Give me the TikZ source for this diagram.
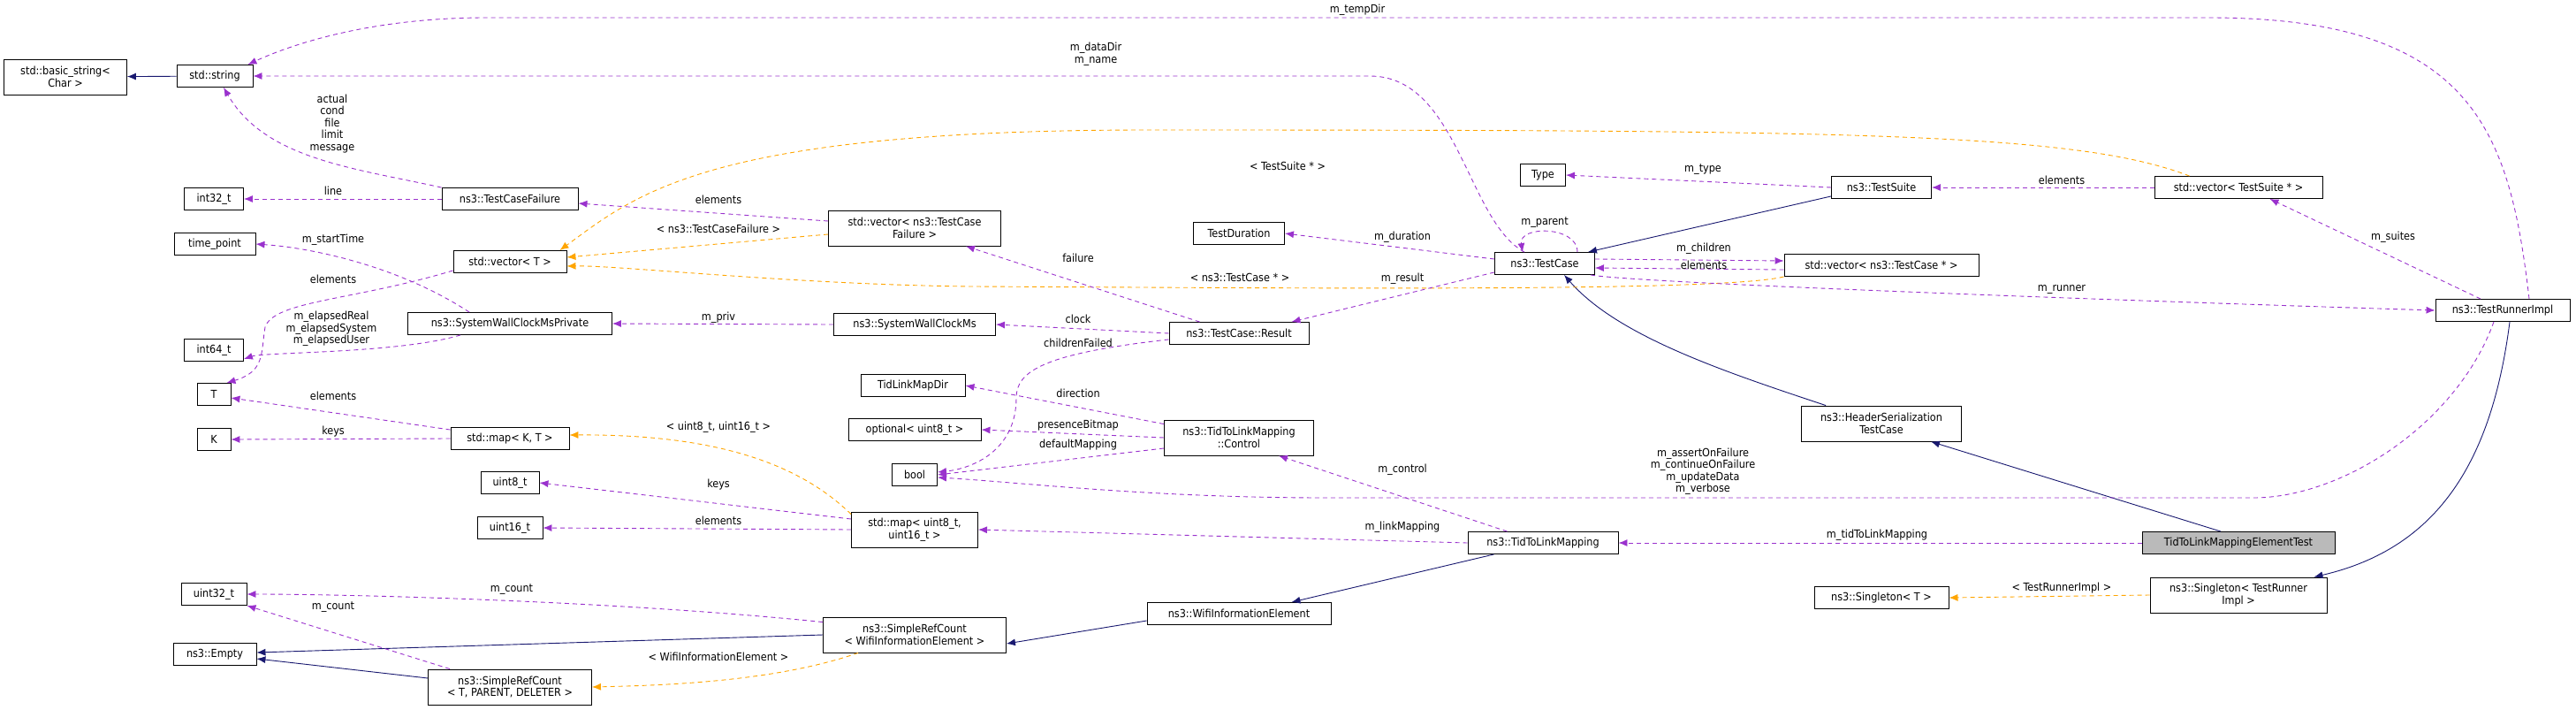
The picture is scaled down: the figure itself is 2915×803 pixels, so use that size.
\documentclass[tikz,border=0pt]{standalone}
\usepackage{fontspec}
\setmainfont{DejaVu Sans Condensed}
\usetikzlibrary{arrows.meta}
\definecolor{inh}{HTML}{191970}
\definecolor{use}{HTML}{9A32CD}
\definecolor{tpl}{HTML}{FFA500}
\tikzset{
  box/.style={draw, fill=white, line width=0.9pt, font=\fontsize{12.5}{13.5}\selectfont, align=center, inner sep=1pt, minimum height=25pt, minimum width=#1},
  box2/.style={box=#1, minimum height=40pt},
  isa/.style={-{Latex[length=10pt,width=8pt,fill=inh]}, draw=inh, line width=0.9pt},
  uses/.style={-{Latex[length=10pt,width=8pt,fill=use]}, draw=use, line width=0.9pt, dash pattern=on 5pt off 4pt},
  inst/.style={-{Latex[length=10pt,width=8pt,fill=tpl]}, draw=tpl, line width=0.9pt, dash pattern=on 5pt off 4pt},
  lbl/.style={font=\fontsize{12.5}{13.5}\selectfont, align=center, inner sep=0pt}
}
\begin{document}
\begin{tikzpicture}[x=1pt,y=-1pt]
\useasboundingbox (0,0) rectangle (2915,803);
% column 1
\node[box2=139] (basicstr) at (74,87) {std::basic\_string\textless\\Char \textgreater};
% column 2
\node[box=86] (str) at (243,86) {std::string};
\node[box=67] (int32) at (242,225) {int32\_t};
\node[box=92] (tpoint) at (243,276) {time\_point};
\node[box=67] (int64) at (242,396) {int64\_t};
\node[box=38] (tt) at (242,446) {T};
\node[box=38] (kk) at (242,497) {K};
\node[box=74] (uint32) at (242,672) {uint32\_t};
\node[box=94] (empty) at (243,740) {ns3::Empty};
% column 3
\node[box=154] (failure) at (577,225) {ns3::TestCaseFailure};
\node[box=128] (vecT) at (577,296) {std::vector\textless{} T \textgreater};
\node[box=231] (wallpriv) at (577,366) {ns3::SystemWallClockMsPrivate};
\node[box=134] (mapKT) at (577,496) {std::map\textless{} K, T \textgreater};
\node[box=66] (uint8) at (577,546) {uint8\_t};
\node[box=74] (uint16) at (577,597) {uint16\_t};
\node[box2=185] (srcT) at (577,777) {ns3::SimpleRefCount\\\textless{} T, PARENT, DELETER \textgreater};
% column 4
\node[box2=195] (vecFail) at (1035,258) {std::vector\textless{} ns3::TestCase\\Failure \textgreater};
\node[box=183] (wall) at (1035,367) {ns3::SystemWallClockMs};
\node[box=118] (mapdir) at (1033,436) {TidLinkMapDir};
\node[box=150] (opt) at (1035,486) {optional\textless{} uint8\_t \textgreater};
\node[box=51] (bool) at (1035,537) {bool};
\node[box2=143] (mapU) at (1035,599) {std::map\textless{} uint8\_t,\\uint16\_t \textgreater};
\node[box2=207] (srcW) at (1035,718) {ns3::SimpleRefCount\\\textless{} WifiInformationElement \textgreater};
% column 5
\node[box=103] (dur) at (1402,264) {TestDuration};
\node[box=158] (result) at (1402,377) {ns3::TestCase::Result};
\node[box2=169] (control) at (1402,495) {ns3::TidToLinkMapping\\::Control};
\node[box=208] (wifiie) at (1402,694) {ns3::WifiInformationElement};
% column 6
\node[box=51] (type) at (1746,198) {Type};
\node[box=113] (tcase) at (1748,298) {ns3::TestCase};
\node[box=170] (tlm) at (1746,614) {ns3::TidToLinkMapping};
% column 7
\node[box=113] (suite) at (2129,212) {ns3::TestSuite};
\node[box=220] (vecCase) at (2129,300) {std::vector\textless{} ns3::TestCase * \textgreater};
\node[box2=181] (hdr) at (2129,479) {ns3::HeaderSerialization\\TestCase};
\node[box=152] (singT) at (2129,676) {ns3::Singleton\textless{} T \textgreater};
% column 8
\node[box=190] (vecSuite) at (2533,212) {std::vector\textless{} TestSuite * \textgreater};
\node[box=218, fill=black!27] (elemtest) at (2533,614) {TidToLinkMappingElementTest};
\node[box2=200] (singR) at (2533,673) {ns3::Singleton\textless{} TestRunner\\Impl \textgreater};
% column 9
\node[box=152] (runner) at (2832,351) {ns3::TestRunnerImpl};

% inheritance
\draw[isa] (str) -- (basicstr);
\draw[isa] ([yshift=3pt]suite.south west) -- ([xshift=-8pt]tcase.north east);
\draw[isa] ([xshift=28pt]hdr.north west) .. controls (1950,420) and (1830,380) .. ([xshift=22pt]tcase.south);
\draw[isa] ([xshift=-20pt]elemtest.north) -- ([xshift=-35pt]hdr.south east);
\draw[isa] ([xshift=30pt]tlm.south west) -- ([xshift=-45pt]wifiie.north east);
\draw[isa] ([yshift=-8pt]wifiie.west) -- ([yshift=-10pt]srcW.east);
\draw[isa] (srcW.west) -- ([yshift=2pt]empty.east);
\draw[isa] ([yshift=10pt]srcT.west) -- ([yshift=-5pt]empty.east);
\draw[isa] ([xshift=8pt]runner.south) .. controls (2820,520) and (2760,620) .. ([xshift=-15pt]singR.north east);

% templates
\draw[inst] ([yshift=-7pt]vecFail.west) -- ([yshift=5pt]vecT.east) node[lbl] at (813,259) {\textless{} ns3::TestCaseFailure \textgreater};
\draw[inst] (vecCase.south west) .. controls (1950,330) and (1500,326) .. (1100,324) .. controls (900,322) and (700,300) .. ([yshift=-5pt]vecT.east) node[lbl] at (1403,314) {\textless{} ns3::TestCase * \textgreater};
\draw[inst] ([xshift=40pt]vecSuite.north west) .. controls (2350,150) and (2100,147) .. (1300,147) .. controls (800,147) and (720,220) .. ([xshift=-8pt]vecT.north east) node[lbl] at (1457,188) {\textless{} TestSuite * \textgreater};
\draw[inst] ([yshift=-3pt]mapU.north west) .. controls (900,520) and (800,491) .. ([yshift=4pt]mapKT.east) node[lbl] at (813,483) {\textless{} uint8\_t, uint16\_t \textgreater};
\draw[inst] ([xshift=40pt]srcW.south west) .. controls (880,770) and (760,775) .. (srcT.east) node[lbl] at (813,743) {\textless{} WifiInformationElement \textgreater};
\draw[inst] (singR.west) -- (singT.east) node[lbl] at (2333,665) {\textless{} TestRunnerImpl \textgreater};

% usage
\draw[uses] ([xshift=30pt]runner.north) .. controls (2840,150) and (2800,20) .. (2500,20) -- (550,20) .. controls (420,20) and (330,50) .. ([xshift=-6pt]str.north east) node[lbl] at (1536,11) {m\_tempDir};
\draw[uses] ([xshift=-23pt]tcase.north) .. controls (1660,250) and (1650,86) .. (1550,86) -- (str.east) node[lbl] at (1240,61) {m\_dataDir\\m\_name};
\draw[uses] (failure.north west) .. controls (400,190) and (300,180) .. ([xshift=10pt]str.south) node[lbl] at (376,140) {actual\\cond\\file\\limit\\message};
\draw[uses] (failure.west) -- (int32.east) node[lbl] at (377,216) {line};
\draw[uses] ([yshift=8pt]vecFail.west) -- ([yshift=-5pt]failure.east) node[lbl] at (813,226) {elements};
\draw[uses] ([xshift=70pt]wallpriv.north west) .. controls (450,300) and (350,280) .. (tpoint.east) node[lbl] at (377,271) {m\_startTime};
\draw[uses] ([yshift=-10pt]vecT.west) .. controls (400,340) and (310,340) .. (300,370) .. controls (295,400) and (300,420) .. ([xshift=-5pt]tt.north east) node[lbl] at (377,316) {elements};
\draw[uses] ([xshift=60pt]wallpriv.south west) .. controls (450,400) and (300,398) .. ([yshift=-10pt]int64.east) node[lbl] at (375,372) {m\_elapsedReal\\m\_elapsedSystem\\m\_elapsedUser};
\draw[uses] (wall.west) -- (wallpriv.east) node[lbl] at (813,359) {m\_priv};
\draw[uses] ([xshift=35pt]result.north west) -- ([xshift=-40pt]vecFail.south east) node[lbl] at (1220,292) {failure};
\draw[uses] (result.west) -- (wall.east) node[lbl] at (1220,361) {clock};
\draw[uses] ([yshift=6pt]result.south west) .. controls (1180,400) and (1150,420) .. (1150,450) .. controls (1150,510) and (1100,530) .. ([yshift=3pt]bool.east) node[lbl] at (1220,388) {childrenFailed};
\draw[uses] ([yshift=-3pt]mapKT.north west) -- ([yshift=-4pt]tt.east) node[lbl] at (377,448) {elements};
\draw[uses] (mapKT.west) -- (kk.east) node[lbl] at (377,488) {keys};
\draw[uses] ([yshift=12pt]mapU.west) -- (uint8.east) node[lbl] at (813,548) {keys};
\draw[uses] (mapU.west) -- (uint16.east) node[lbl] at (813,589) {elements};
\draw[uses] ([yshift=-6pt]srcW.north west) .. controls (700,680) and (400,672) .. (uint32.east) node[lbl] at (579,667) {m\_count};
\draw[uses] ([xshift=25pt]srcT.north west) -- (uint32.south east) node[lbl] at (377,687) {m\_count};
\draw[uses] ([yshift=-5pt]control.north west) -- (mapdir.east) node[lbl] at (1220,445) {direction};
\draw[uses] (control.west) -- (opt.east) node[lbl] at (1220,481) {presenceBitmap};
\draw[uses] ([yshift=-12pt]control.west) -- (bool.east) node[lbl] at (1220,503) {defaultMapping};
\draw[uses] ([xshift=-10pt]runner.south) .. controls (2780,480) and (2650,563) .. (2550,563) -- (1500,563) .. controls (1300,563) and (1150,545) .. ([yshift=-3pt]bool.east) node[lbl] at (1927,533) {m\_assertOnFailure\\m\_continueOnFailure\\m\_updateData\\m\_verbose};
\draw[uses] ([xshift=45pt]tlm.north west) -- ([xshift=-40pt]control.south east) node[lbl] at (1587,531) {m\_control};
\draw[uses] (tlm.west) -- (mapU.east) node[lbl] at (1587,596) {m\_linkMapping};
\draw[uses] (elemtest.west) -- (tlm.east) node[lbl] at (2124,605) {m\_tidToLinkMapping};
\draw[uses] (suite.west) -- (type.east) node[lbl] at (1927,192) {m\_type};
\draw[uses] ([yshift=5pt]tcase.west) -- (dur.east) node[lbl] at (1587,268) {m\_duration};
\draw[uses] ([yshift=3pt]tcase.south west) -- ([xshift=-20pt]result.north east) node[lbl] at (1587,315) {m\_result};
\draw[uses] ([xshift=-20pt]tcase.north east) .. controls (1785,255) and (1718,255) .. ([xshift=-25pt]tcase.north) node[lbl] at (1748,252) {m\_parent};
\draw[uses] ([yshift=5pt]tcase.east) -- ([yshift=5pt]vecCase.west) node[lbl] at (1928,281) {m\_children};
\draw[uses] ([yshift=-5pt]vecCase.west) -- ([yshift=-5pt]tcase.east) node[lbl] at (1928,300) {elements};
\draw[uses] ([xshift=-5pt]tcase.south east) .. controls (1850,320) and (2400,340) .. (runner.west) node[lbl] at (2333,327) {m\_runner};
\draw[uses] (vecSuite.west) -- (suite.east) node[lbl] at (2333,204) {elements};
\draw[uses] ([xshift=-25pt]runner.north) -- ([xshift=-60pt]vecSuite.south east) node[lbl] at (2708,268) {m\_suites};
\end{tikzpicture}
\end{document}
